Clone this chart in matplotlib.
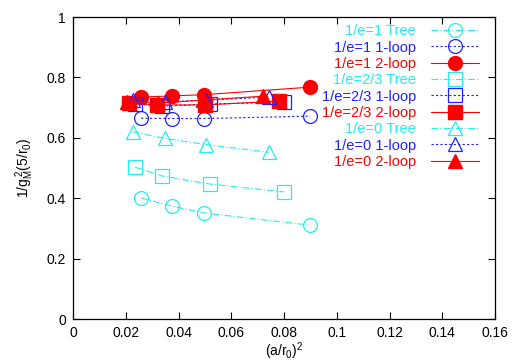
import matplotlib
matplotlib.use('Agg')
from matplotlib import pyplot

# (a/r0)^2 values per e, tree / 1-loop share x, 2-loop slightly shifted
x_e1 = [0.0258, 0.0375, 0.0497, 0.0899]
x_e23 = [0.0235, 0.0337, 0.0519, 0.0800]
x_e23_2loop = [0.0212, 0.0318, 0.0500, 0.0781]
x_e0 = [0.0227, 0.0349, 0.0504, 0.0743]
x_e0_2loop = [0.0205, 0.0322, 0.0493, 0.0720]

tree_e1 = [0.401, 0.374, 0.351, 0.311]
loop1_e1 = [0.665, 0.664, 0.664, 0.672]
loop2_e1 = [0.735, 0.739, 0.743, 0.768]

tree_e23 = [0.503, 0.474, 0.447, 0.421]
loop1_e23 = [0.712, 0.705, 0.712, 0.718]
loop2_e23 = [0.715, 0.709, 0.709, 0.722]

tree_e0 = [0.620, 0.598, 0.578, 0.552]
loop1_e0 = [0.725, 0.719, 0.725, 0.735]
loop2_e0 = [0.719, 0.715, 0.725, 0.738]

CYAN = '#22eeee'
BLUE = '#2020ff'
RED = '#ff0000'


def main():
    pyplot.rcParams['font.family'] = ['Liberation Sans', 'DejaVu Sans']
    pyplot.rcParams['font.size'] = 8
    pyplot.rcParams['mathtext.default'] = 'regular'

    fig = pyplot.figure(figsize=(5.18, 3.63), dpi=100)
    ax = fig.add_axes([0.141, 0.121, 0.815, 0.832])

    tree = dict(color=CYAN, ls=(0, (6, 2, 1, 2)), lw=0.8, mfc='none', mew=0.9, ms=10)
    loop1 = dict(color=BLUE, ls=(0, (2, 2)), lw=0.8, mfc='none', mew=0.9, ms=10)
    loop2 = dict(color=RED, ls='-', lw=0.8, ms=10)

    ax.plot(x_e1, tree_e1, marker='o', label='1/e=1 Tree', **tree)
    ax.plot(x_e1, loop1_e1, marker='o', label='1/e=1 1-loop', **loop1)
    ax.plot(x_e1, loop2_e1, marker='o', label='1/e=1 2-loop', **loop2)
    ax.plot(x_e23, tree_e23, marker='s', label='1/e=2/3 Tree', **tree)
    ax.plot(x_e23, loop1_e23, marker='s', label='1/e=2/3 1-loop', **loop1)
    ax.plot(x_e23_2loop, loop2_e23, marker='s', label='1/e=2/3 2-loop', **loop2)
    ax.plot(x_e0, tree_e0, marker='^', label='1/e=0 Tree', **tree)
    ax.plot(x_e0, loop1_e0, marker='^', label='1/e=0 1-loop', **loop1)
    ax.plot(x_e0_2loop, loop2_e0, marker='^', label='1/e=0 2-loop', **loop2)

    ax.set_xlim(0, 0.16)
    ax.set_ylim(0, 1)
    ax.set_xticks([0, 0.02, 0.04, 0.06, 0.08, 0.1, 0.12, 0.14, 0.16])
    ax.set_xticklabels(['0', '0.02', '0.04', '0.06', '0.08', '0.1', '0.12', '0.14', '0.16'])
    ax.set_yticks([0, 0.2, 0.4, 0.6, 0.8, 1])
    ax.set_yticklabels(['0', '0.2', '0.4', '0.6', '0.8', '1'])
    ax.tick_params(direction='in', length=5, width=0.8, top=True, right=True,
                   labelsize=10, pad=5)
    for sp in ax.spines.values():
        sp.set_linewidth(0.9)

    ax.set_xlabel('$(a/r_0)^2$', fontsize=10, labelpad=0)
    ax.set_ylabel('$1/g_M^{\\,2}(5/r_0)$', fontsize=10, labelpad=8)

    leg = ax.legend(loc='upper right', bbox_to_anchor=(0.985, 1.01), frameon=False,
                    markerfirst=False, fontsize=10.5, handlelength=3.3,
                    labelspacing=0.16, handletextpad=1.0, borderpad=0.2)
    colors = [CYAN, BLUE, RED] * 3
    for txt, c in zip(leg.get_texts(), colors):
        txt.set_color(c)

    pyplot.savefig('out.png', dpi=100)


if __name__ == '__main__':
    main()
